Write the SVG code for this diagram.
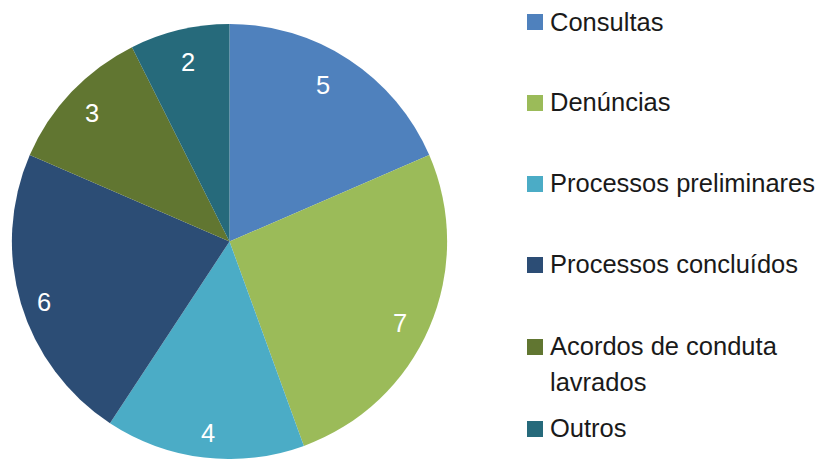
<svg xmlns="http://www.w3.org/2000/svg" width="821" height="459" viewBox="0 0 821 459">
<style>
.lbl{font-family:"Liberation Sans",Arial,sans-serif;font-size:25.5px;fill:#ffffff;text-anchor:middle}
.leg{font-family:"Liberation Sans",Arial,sans-serif;font-size:25.5px;fill:#1a1a1a}
</style>
<rect width="821" height="459" fill="#ffffff"/>
<g id="pie">
<g id="consultas"><path d="M229.5,241.5 L229.5,24 A217.5,217.5 0 0 1 429.25,155.12 Z" fill="#4F81BD"/><text class="lbl" x="323" y="94">5</text></g>
<g id="denuncias"><path d="M229.5,241.5 L429.25,155.12 A217.5,217.5 0 0 1 303.89,445.88 Z" fill="#9BBB59"/><text class="lbl" x="400" y="332">7</text></g>
<g id="preliminares"><path d="M229.5,241.5 L303.89,445.88 A217.5,217.5 0 0 1 109.98,423.22 Z" fill="#4BACC6"/><text class="lbl" x="208" y="442">4</text></g>
<g id="concluidos"><path d="M229.5,241.5 L109.98,423.22 A217.5,217.5 0 0 1 29.75,155.12 Z" fill="#2C4D75"/><text class="lbl" x="44" y="311">6</text></g>
<g id="acordos"><path d="M229.5,241.5 L29.75,155.12 A217.5,217.5 0 0 1 131.98,47.14 Z" fill="#617631"/><text class="lbl" x="92" y="122">3</text></g>
<g id="outros"><path d="M229.5,241.5 L131.98,47.14 A217.5,217.5 0 0 1 229.5,24 Z" fill="#266A7B"/><text class="lbl" x="188" y="71">2</text></g>
</g>
<g id="legend">
<g id="leg-consultas"><rect x="527" y="14" width="16" height="16" fill="#4F81BD"/><text class="leg" x="550" y="31">Consultas</text></g>
<g id="leg-denuncias"><rect x="527" y="95" width="16" height="16" fill="#9BBB59"/><text class="leg" x="550" y="111">Denúncias</text></g>
<g id="leg-preliminares"><rect x="527" y="176" width="16" height="16" fill="#4BACC6"/><text class="leg" x="550" y="192">Processos preliminares</text></g>
<g id="leg-concluidos"><rect x="527" y="257" width="16" height="16" fill="#2C4D75"/><text class="leg" x="550" y="273">Processos concluídos</text></g>
<g id="leg-acordos"><rect x="527" y="339" width="16" height="16" fill="#617631"/><text class="leg" x="550" y="355">Acordos de conduta</text><text class="leg" x="550" y="391">lavrados</text></g>
<g id="leg-outros"><rect x="527" y="421" width="16" height="16" fill="#266A7B"/><text class="leg" x="550" y="437">Outros</text></g>
</g>
</svg>
